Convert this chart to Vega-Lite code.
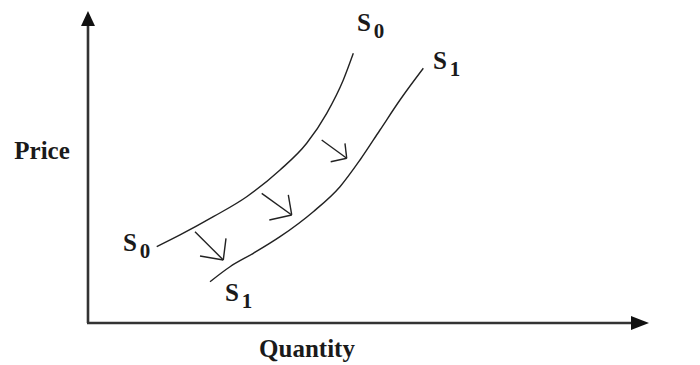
{
  "$schema": "https://vega.github.io/schema/vega-lite/v6.json",
  "width": 700,
  "height": 365,
  "autosize": {"type": "fit", "contains": "padding"},
  "padding": 0,
  "background": "white",
  "config": {"view": {"stroke": null}},
  "datasets": {
    "curves": [
      {"curve": "S0", "i": 1, "q": 12.27, "p": 24.53},
      {"curve": "S0", "i": 2, "q": 16.43, "p": 28.30},
      {"curve": "S0", "i": 3, "q": 22.38, "p": 34.18},
      {"curve": "S0", "i": 4, "q": 28.34, "p": 40.61},
      {"curve": "S0", "i": 5, "q": 34.29, "p": 49.20},
      {"curve": "S0", "i": 6, "q": 39.05, "p": 57.78},
      {"curve": "S0", "i": 7, "q": 42.63, "p": 67.43},
      {"curve": "S0", "i": 8, "q": 45.59, "p": 78.14},
      {"curve": "S0", "i": 9, "q": 47.38, "p": 86.72},
      {"curve": "S1", "i": 1, "q": 21.79, "p": 13.28},
      {"curve": "S1", "i": 2, "q": 25.36, "p": 18.10},
      {"curve": "S1", "i": 3, "q": 29.52, "p": 22.41},
      {"curve": "S1", "i": 4, "q": 34.29, "p": 27.75},
      {"curve": "S1", "i": 5, "q": 40.23, "p": 35.79},
      {"curve": "S1", "i": 6, "q": 45.00, "p": 43.83},
      {"curve": "S1", "i": 7, "q": 48.57, "p": 52.41},
      {"curve": "S1", "i": 8, "q": 52.14, "p": 62.06},
      {"curve": "S1", "i": 9, "q": 55.71, "p": 71.70},
      {"curve": "S1", "i": 10, "q": 59.88, "p": 81.90}
    ],
    "arrows": [
      {"q": 19.11, "p": 29.36, "q2": 24.16, "p2": 20.26},
      {"q": 20.00, "p": 21.54, "q2": 24.16, "p2": 20.26},
      {"q": 24.64, "p": 27.23, "q2": 24.16, "p2": 20.26},
      {"q": 31.02, "p": 41.70, "q2": 36.38, "p2": 34.73},
      {"q": 32.38, "p": 33.12, "q2": 36.38, "p2": 34.73},
      {"q": 35.77, "p": 41.16, "q2": 36.38, "p2": 34.73},
      {"q": 41.73, "p": 58.84, "q2": 46.20, "p2": 52.96},
      {"q": 43.34, "p": 51.86, "q2": 46.20, "p2": 52.96},
      {"q": 45.89, "p": 57.78, "q2": 46.20, "p2": 52.96}
    ],
    "axes": [
      {"q": 0, "p": 0, "q2": 0, "p2": 96.6},
      {"q": -0.18, "p": 0, "q2": 97.5, "p2": 0}
    ],
    "heads": [
      {"dir": "up", "q": 0, "p": 97.91},
      {"dir": "right", "q": 98.57, "p": 0}
    ],
    "titles": [
      {"label": "Price", "q": -8.21, "p": 55.31},
      {"label": "Quantity", "q": 39.11, "p": -8.36}
    ],
    "curveLabels": [
      {"letter": "S", "sub": "0", "q": 49.29, "p": 96.46},
      {"letter": "S", "sub": "1", "q": 62.86, "p": 84.24},
      {"letter": "S", "sub": "0", "q": 7.5, "p": 25.72},
      {"letter": "S", "sub": "1", "q": 25.71, "p": 9.65}
    ]
  },
  "encoding": {
    "x": {"field": "q", "type": "quantitative", "axis": null,
          "scale": {"domain": [-15.714, 109.286], "nice": false, "zero": false}},
    "y": {"field": "p", "type": "quantitative", "axis": null,
          "scale": {"domain": [-13.505, 103.859], "nice": false, "zero": false}}
  },
  "layer": [
    {
      "data": {"name": "axes"},
      "mark": {"type": "rule", "color": "#333333", "strokeWidth": 2.6},
      "encoding": {
        "x2": {"field": "q2"},
        "y2": {"field": "p2"}
      }
    },
    {
      "data": {"name": "heads"},
      "transform": [{"filter": "datum.dir === 'up'"}],
      "mark": {"type": "point", "filled": true, "color": "#111111", "opacity": 1,
               "shape": "M0,-1L0.93,1L-0.93,1Z", "size": 225}
    },
    {
      "data": {"name": "heads"},
      "transform": [{"filter": "datum.dir === 'right'"}],
      "mark": {"type": "point", "filled": true, "color": "#111111", "opacity": 1,
               "shape": "M1,0L-1,-0.78L-1,0.78Z", "size": 324}
    },
    {
      "data": {"name": "curves"},
      "mark": {"type": "line", "color": "#222222", "strokeWidth": 1.4, "interpolate": "monotone"},
      "encoding": {
        "detail": {"field": "curve"},
        "order": {"field": "i", "type": "quantitative"}
      }
    },
    {
      "data": {"name": "arrows"},
      "mark": {"type": "rule", "color": "#222222", "strokeWidth": 1.4},
      "encoding": {
        "x2": {"field": "q2"},
        "y2": {"field": "p2"}
      }
    },
    {
      "data": {"name": "titles"},
      "mark": {"type": "text", "font": "Liberation Serif", "fontWeight": "bold", "fontSize": 25,
               "color": "#1a1a1a", "align": "center", "baseline": "middle"},
      "encoding": {"text": {"field": "label"}}
    },
    {
      "data": {"name": "curveLabels"},
      "mark": {"type": "text", "font": "Liberation Serif", "fontWeight": "bold", "fontSize": 25,
               "color": "#1a1a1a", "align": "center", "baseline": "middle"},
      "encoding": {"text": {"field": "letter"}}
    },
    {
      "data": {"name": "curveLabels"},
      "mark": {"type": "text", "font": "Liberation Serif", "fontWeight": "bold", "fontSize": 21,
               "color": "#1a1a1a", "align": "center", "baseline": "middle", "dx": 15, "dy": 9},
      "encoding": {"text": {"field": "sub"}}
    }
  ]
}
